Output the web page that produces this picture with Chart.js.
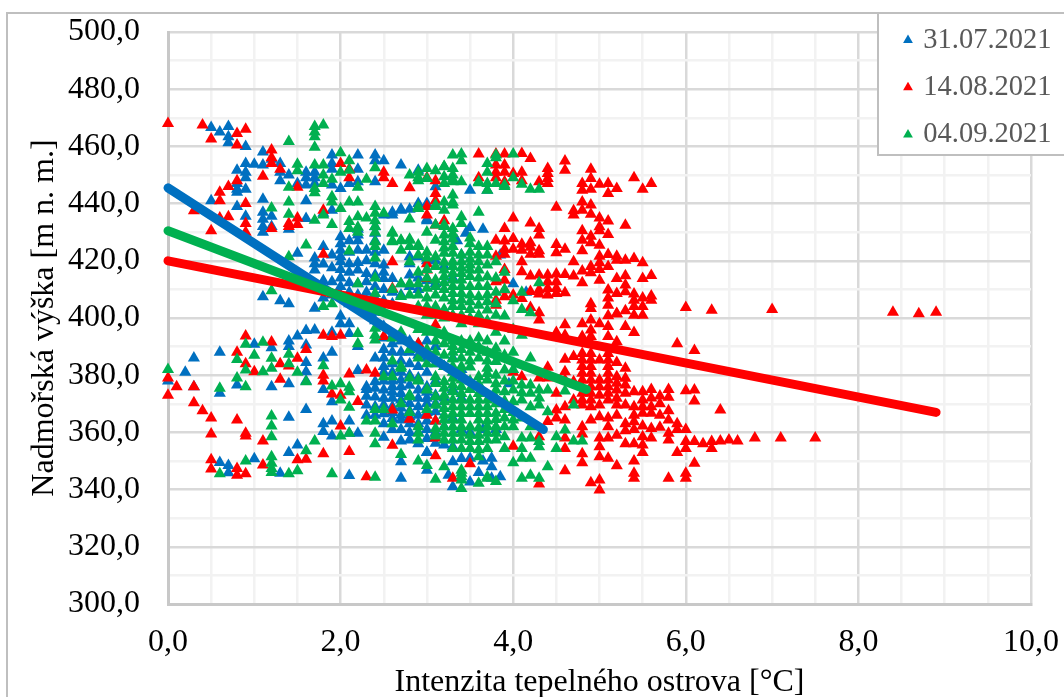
<!DOCTYPE html>
<html><head><meta charset="utf-8">
<script src="https://cdn.jsdelivr.net/npm/chart.js@4/dist/chart.umd.min.js"></script>
<style>html,body{margin:0;padding:0;background:#fff;overflow:hidden}#c{display:block}</style>
</head><body><div style="width:1064px;height:697px"><canvas id="c" width="1064" height="697"></canvas></div>
<script>
const seriesLabels = ['31.07.2021','14.08.2021','04.09.2021'];
const axisTitleX = 'Intenzita tepelného ostrova [°C]';
const axisTitleY = 'Nadmořská výška [m n. m.]';

const points0731 = [
[0,378],[.2,381],[.3,386],[.3,376],[.5,466.6],[.5,441],[.6,465],[.6,388],[.6,373.7],[.6,349.5],[.7,467],[.7,463.4],[.7,461.3],[.7,348.4],[.7,345.9],
[.8,451.7],[.8,447],[.8,445],[.8,444],[.8,439],[.8,376.6],[.9,460],[.9,454],[.9,451],[.9,449],[.9,445],[.9,435.6],[1,453.8],[1,390.8],[1,350.8],
[1.1,458],[1.1,453.5],[1.1,441.5],[1.1,437],[1.1,434.5],[1.1,432],[1.1,430],[1.1,407.4],[1.2,455.5],[1.2,435.6],[1.2,432],[1.2,389.6],[1.2,376],
[1.3,454],[1.3,451],[1.3,448],[1.3,406],[1.3,345.7],[1.4,450],[1.4,431],[1.4,405],[1.4,392],[1.4,390],[1.4,377],[1.4,365.3],[1.4,353],
[1.5,447],[1.5,422.6],[1.5,393.7],[1.5,355.6],[1.6,451],[1.6,449],[1.6,446.5],[1.6,441],[1.6,434.8],[1.6,412],[1.6,395.6],[1.6,390.6],[1.6,384.4],[1.6,381.2],[1.6,378],[1.6,368],
[1.7,451],[1.7,449],[1.7,447],[1.7,421],[1.7,419],[1.7,416.8],[1.7,411],[1.7,403.4],[1.7,395.8],[1.8,436.6],[1.8,425],[1.8,418.9],[1.8,413],[1.8,407],[1.8,386],[1.8,375],[1.8,363],[1.8,360.3],
[1.9,457],[1.9,454],[1.9,452],[1.9,446.5],[1.9,437.7],[1.9,422],[1.9,417.6],[1.9,412.7],[1.9,408],[1.9,395],[1.9,388],[1.9,370.7],[1.9,364],[1.9,358.7],
[2,445.3],[2,428.4],[2,426],[2,423.7],[2,421.4],[2,419.7],[2,417],[2,414],[2,411],[2,408],[2,400.7],[2,398],[2.1,447],[2.1,427],[2.1,423],[2.1,419],[2.1,416],[2.1,412.3],[2.1,409],[2.1,405],[2.1,398],[2.1,394.6],[2.1,364],[2.1,359.7],[2.1,344.9],
[2.2,457],[2.2,452],[2.2,447.6],[2.2,427],[2.2,423.7],[2.2,419.4],[2.2,416.8],[2.2,412],[2.2,408],[2.2,404],[2.2,390],[2.2,381.6],[2.2,359.7],[2.2,431],[2.2,429],
[2.3,423.7],[2.3,420],[2.3,415.6],[2.3,412.7],[2.3,409],[2.3,406],[2.3,403],[2.3,376],[2.3,375],[2.3,372.6],[2.3,369.6],[2.3,366],[2.4,457],[2.4,455],[2.4,447.6],[2.4,431.9],[2.4,429.6],[2.4,427],[2.4,423],[2.4,419],[2.4,415],[2.4,411],[2.4,407],[2.4,402],[2.4,399],[2.4,386],[2.4,377.7],[2.4,375.4],[2.4,372.4],[2.4,369],[2.4,366],
[2.5,455],[2.5,436],[2.5,423.7],[2.5,418.5],[2.5,416],[2.5,413.8],[2.5,410],[2.5,406],[2.5,402],[2.5,397],[2.5,393],[2.5,389],[2.5,386],[2.5,383],[2.5,381],[2.5,378],[2.5,374.8],[2.5,371.9],[2.5,369.6],[2.5,366.5],[2.5,363],[2.5,358.3],
[2.6,437],[2.6,436],[2.6,413.8],[2.6,409],[2.6,405],[2.6,394],[2.6,391],[2.6,388],[2.6,384],[2.6,381],[2.6,378],[2.6,376],[2.6,374],[2.6,371.9],[2.6,369],[2.6,367],[2.6,364.9],[2.6,361],
[2.7,453.5],[2.7,438],[2.7,437.7],[2.7,412],[2.7,408],[2.7,392],[2.7,388],[2.7,385],[2.7,381],[2.7,378.3],[2.7,376],[2.7,373.6],[2.7,371.3],[2.7,368.5],[2.7,366],[2.7,364.3],[2.7,361],[2.7,357],[2.7,349.7],[2.7,344],
[2.8,421.4],[2.8,419],[2.8,415],[2.8,411],[2.8,438],[2.8,392],[2.8,388],[2.8,384],[2.8,380],[2.8,376.5],[2.8,373],[2.8,370.1],[2.8,367.5],[2.8,365.5],[2.8,363],[2.8,360],[2.8,357.3],
[2.9,440],[2.9,421.4],[2.9,451.7],[2.9,414],[2.9,410],[2.9,391],[2.9,387],[2.9,383],[2.9,379],[2.9,374.8],[2.9,371.9],[2.9,369],[2.9,366],[2.9,363],[2.9,360],[2.9,356],
[3,440],[3,434.5],[3,434],[3,420],[3,413],[3,392],[3,386],[3,381],[3,376],[3,374],[3,371.9],[3,370.1],[3,367],[3,364],[3,361],[3,357.9],[3,353],[3,346.8],[3,353],
[3.1,445.9],[3.1,420],[3.1,412],[3.1,390],[3.1,384],[3.1,378],[3.1,373],[3.1,370],[3.1,367.2],[3.1,364],[3.1,360],[3.1,356.2],[3.2,355.6],[3.2,362],[3.2,372],[3.2,383],[3.2,418],[3.25,345],[3.3,349.7],[3.3,341],[3.3,375],[3.3,365],[3.3,355],[3.3,386],[3.3,414],
[3.4,350.9],[3.4,361],[3.4,372],[3.4,382],[3.4,422],[3.45,429.6],[3.5,444.7],[3.5,342.7],[3.5,431.6],[3.5,360],[3.5,351],[3.35,427],[3.65,431],[3.65,350],[3.65,361],[3.7,444.7],[3.75,351],[3.75,348],[3.75,344],[3.85,344.5],[3.85,422],[3.95,377],[3.6,346],[3.8,361],[4,412],[4.15,409]
];

const points1408 = [
[0,468],[0,379],[0,373],[.1,376],[.3,437.5],[.3,376],[.3,370.4],[.4,467.5],[.4,367.6],[.5,462.6],[.5,430.5],[.5,365],[.5,359.4],[.5,350.4],[.5,347.2],[.6,444],[.6,441],[.6,435],
[.7,446],[.7,435.4],[.8,464.5],[.8,460.5],[.8,448],[.8,388],[.8,364.3],[.8,347.4],[.8,345],[.9,466],[.9,440],[.9,433],[.9,430],[.9,393.7],[.9,384],[.9,359.7],[.9,358.7],[.9,345.5],
[1,381.2],[1.1,449.6],[1.1,357],[1.1,348.6],[1.2,458.7],[1.2,456],[1.2,454],[1.2,431.3],[1.2,391.6],[1.3,452],[1.3,384],[1.3,378.6],[1.4,433],[1.4,432],[1.4,383.2],
[1.5,445.7],[1.5,435],[1.5,432.7],[1.5,385.9],[1.5,350.4],[1.6,389],[1.6,350.6],[1.8,437.7],[1.8,422.3],[1.8,394],[1.8,380],[1.8,378],[1.8,352.5],[1.9,393.5],[1.9,373.4],
[2,454],[2,394],[2,373],[2,362.2],[2.1,452],[2.1,449],[2.1,380.4],[2.1,353.3],[2.2,370.8],[2.3,381.8],[2.3,344.5],[2.4,380.7],[2.5,451],[2.5,449],[2.5,393.5],
[2.6,447],[2.6,419.7],[2.6,410.3],[2.6,367.8],[2.6,355.5],[2.8,445.5],[2.8,364.6],[2.9,391],[3,449],[3,439],[3,436],[3,419],[3,416.8],[3,413.8],[3,366],
[3.1,448],[3.1,443.5],[3.1,441],[3.1,432.5],[3.1,397.6],[3.1,364],[3.1,358],[3.1,351.8],[3.2,434],[3.3,344],[3.5,349],
[3.6,457.3],[3.6,449],[3.8,457.3],[3.8,453.5],[3.8,451],[3.8,449],[3.8,427.2],[3.8,421.6],[3.8,412.7],[3.8,406.2],[3.8,404.5],
[3.9,457.3],[3.9,453.5],[3.9,451],[3.9,447.6],[3.9,431.3],[3.9,426.9],[3.9,424],[3.9,422.3],[3.9,417],[3.9,413.2],[3.9,409.8],[3.9,407.4],
[4,450.5],[4,435],[4,427.8],[4,424],[4,408],[4,381],[4,355.2],[4.1,457.5],[4.1,451],[4.1,448],[4.1,425.8],[4.1,423.7],[4.1,419.7],[4.1,416.2],[4.1,406.8],[4.1,379.5],
[4.2,455.8],[4.2,433.2],[4.2,426.3],[4.2,424.7],[4.2,422.3],[4.2,414.7],[4.2,409.3],[4.2,403.7],[4.3,447.6],[4.3,431.3],[4.3,429],[4.3,423.5],[4.3,422.3],[4.3,415],[4.3,409.8],[4.3,408.4],[4.3,401.8],[4.3,399.3],[4.3,379],[4.3,358.5],[4.3,342],
[4.4,452.3],[4.4,450.5],[4.4,448.8],[4.4,447],[4.4,415],[4.4,412.7],[4.4,410.3],[4.4,408],[4.4,382.8],[4.4,379],[4.4,363.8],
[4.5,438.7],[4.5,425.7],[4.5,422.8],[4.5,415.4],[4.5,412.7],[4.5,410.3],[4.5,408.6],[4.5,394.9],[4.5,373.7],[4.5,367.8],[4.5,365],
[4.6,454.9],[4.6,451.7],[4.6,424],[4.6,415.2],[4.6,408.8],[4.6,397.6],[4.6,394],[4.6,385.6],[4.6,381.2],[4.6,378.3],[4.6,369],[4.6,364.3],[4.6,358],[4.6,354.4],[4.6,346.6],
[4.7,437.5],[4.7,436],[4.7,419.7],[4.7,414.7],[4.7,386.5],[4.7,377.7],[4.7,371.3],
[4.8,447],[4.8,444.7],[4.8,440.6],[4.8,437.7],[4.8,430.5],[4.8,427.2],[4.8,423.5],[4.8,416.4],[4.8,412.3],[4.8,398],[4.8,393.5],[4.8,387.6],[4.8,385.3],[4.8,383],[4.8,380.7],[4.8,378.3],[4.8,376],[4.8,373.7],[4.8,371.3],[4.8,369.6],[4.8,362],[4.8,359.4],[4.8,352.5],[4.8,349.4],
[4.9,452],[4.9,448.8],[4.9,445],[4.9,439.5],[4.9,436.3],[4.9,428.6],[4.9,426.3],[4.9,418],[4.9,415.8],[4.9,405],[4.9,403.3],[4.9,399.3],[4.9,395.8],[4.9,393.5],[4.9,391.1],[4.9,387.6],[4.9,385.3],[4.9,383],[4.9,380.7],[4.9,378.3],[4.9,376],[4.9,373.7],[4.9,371.3],[4.9,369],[4.9,364.3],[4.9,342.4],
[5,446.8],[5,435],[5,431.9],[5,430.5],[5,425.4],[5,421.6],[5,419.3],[5,417],[5,413.2],[5,398],[5,385.3],[5,378.3],[5,376],[5,373],[5,369.6],[5,365.5],[5,358],[5,355],[5,351.5],[5,343.4],[5,339.9],
[5.1,447],[5.1,443.5],[5.1,433.9],[5.1,429.2],[5.1,422.2],[5.1,418],[5.1,409.8],[5.1,407],[5.1,404.5],[5.1,400.8],[5.1,397],[5.1,393.5],[5.1,387.6],[5.1,385.3],[5.1,383],[5.1,380.7],[5.1,378.3],[5.1,376],[5.1,373.7],[5.1,371.3],[5.1,365],[5.1,362],[5.1,358],[5.1,351],
[5.2,445.3],[5.2,421.6],[5.2,420.2],[5.2,413.8],[5.2,408.6],[5.2,401.6],[5.2,401.4],[5.2,391.7],[5.2,384.4],[5.2,379.5],[5.2,377.2],[5.2,374.8],[5.2,371.9],[5.2,369.6],[5.2,366],[5.2,359],[5.2,348.3],
[5.3,432.4],[5.3,420.2],[5.3,414.8],[5.3,411.5],[5.3,409.2],[5.3,402.5],[5.3,397],[5.3,382.4],[5.3,378.9],[5.3,376.6],[5.3,373.7],[5.3,369.6],[5.3,363],[5.3,360.6],[5.3,356],
[5.4,449],[5.4,420.8],[5.4,408.4],[5.4,406.2],[5.4,404],[5.4,401],[5.4,394.9],[5.4,374.2],[5.4,369],[5.4,366],[5.4,363.7],[5.4,361],[5.4,356],[5.4,350],[5.4,345.7],[5.4,344],
[5.5,445],[5.5,419.3],[5.5,413.8],[5.5,407],[5.5,404],[5.5,401],[5.5,374.2],[5.5,371.3],[5.5,369],[5.5,366.7],[5.5,362.2],[5.5,358.5],[5.5,355.6],[5.5,353],
[5.6,447],[5.6,414.9],[5.6,407.7],[5.6,406.2],[5.6,375],[5.6,372],[5.6,369],[5.6,366.7],[5.6,361.4],[5.6,358],[5.7,372.7],[5.7,370],[5.7,366],[5.7,361.8],
[5.8,375],[5.8,372.3],[5.8,367.6],[5.8,364.3],[5.8,359.7],[5.8,357.3],[5.8,344],[5.9,391],[5.9,363],[5.9,361],[5.9,353],[6,403.7],[6,374.6],[6,361],[6,356.8],[6,354.4],[6,345.7],[6,344],
[6.1,388.6],[6.1,374.8],[6.1,371],[6.1,356.8],[6.1,349.2],[6.2,356],[6.3,402.7],[6.3,356.8],[6.3,354.4],[6.4,367.8],[6.4,357],[6.5,357.3],[6.6,357],[6.8,358],[7,403],[7.1,358],[7.5,358],[8.4,402],[8.7,401.5],[8.9,402]
];

const points0409 = [
[0,382],[.6,375.4],[.6,345.5],[.8,385.5],[.8,379],[.9,390.8],[.9,381.8],[.9,376],[.9,350],[1,387],[1.1,391.5],[1.1,381.2],[1.2,438.5],[1.2,409.5],[1.2,385.9],[1.2,382.4],[1.2,365.7],[1.2,362.2],[1.2,358.5],[1.2,351.5],[1.2,349.2],[1.2,347.4],[1.2,346],
[1.4,461.7],[1.4,445.7],[1.4,440.6],[1.4,436.3],[1.4,421.4],[1.4,387.3],[1.4,384],[1.4,345.5],[1.5,453.8],[1.5,451.5],[1.5,381],[1.5,346.6],[1.6,425.5],[1.6,377.7],[1.6,353.6],
[1.7,467],[1.7,465],[1.7,463.4],[1.7,459.7],[1.7,453.5],[1.7,445.3],[1.7,443.8],[1.7,434.2],[1.7,357],[1.8,467.5],[1.8,453.5],[1.8,450],[1.8,447],[1.8,436],[1.8,404],[1.8,383.3],
[1.9,448.5],[1.9,442.4],[1.9,440.6],[1.9,432.7],[1.9,405],[1.9,376.2],[1.9,345.5],[2,457.8],[2,451],[2,438.3],[2,377],[2,371.3],[2,358.7],
[2.1,455],[2.1,451.7],[2.1,440.6],[2.1,433.7],[2.1,431.3],[2.1,423.4],[2.1,375.8],[2.1,374.2],[2.1,368.8],[2.1,359.7],[2.2,445.7],[2.2,440.6],[2.2,435.4],[2.2,431.7],[2.2,430],[2.2,412],[2.2,394.6],[2.2,391],
[2.3,448.5],[2.3,435],[2.3,364],[2.4,452.5],[2.4,439],[2.4,436.6],[2.4,434],[2.4,432],[2.4,430],[2.4,426.7],[2.4,425],[2.4,421],[2.4,414],[2.4,408.6],[2.4,396.4],[2.4,394],[2.4,392.3],[2.4,368],[2.4,364],[2.4,359.7],[2.4,356],[2.4,344.3],
[2.5,436.6],[2.5,379.5],[2.5,368],[2.6,430],[2.6,429.6],[2.6,427],[2.6,426.7],[2.6,410],[2.6,393],[2.6,385],[2.6,379.5],[2.6,363],[2.7,427.2],[2.7,427],[2.7,423.7],[2.7,412],[2.7,407.5],[2.7,395],[2.7,383],[2.7,382.4],[2.7,370],[2.7,352.3],
[2.8,450],[2.8,434.6],[2.8,427.5],[2.8,427.2],[2.8,425],[2.8,419.7],[2.8,412],[2.8,408],[2.8,389],[2.8,379],[2.8,372.5],[2.8,367],[2.8,373],[2.9,451],[2.9,449],[2.9,448],[2.9,438.9],[2.9,438.3],[2.9,425.5],[2.9,425],[2.9,422],[2.9,416],[2.9,412],[2.9,408],[2.9,404],[2.9,396],[2.9,386],[2.9,378],[2.9,378.3],[2.9,362],[2.9,359.7],[2.9,357.3],[2.9,350],
[3,452.3],[3,448.8],[3,430],[3,423],[3,421],[3,417],[3,414],[3,410.4],[3,407],[3,404],[3,401],[3,395],[3,389],[3,384],[3,375],[3,374.8],[3,368],[3,348.4],
[3.1,451.5],[3.1,439.5],[3.1,439],[3.1,432.5],[3.1,427.2],[3.1,421.4],[3.1,418],[3.1,413.3],[3.1,411],[3.1,408],[3.1,404],[3.1,401],[3.1,392],[3.1,388],[3.1,384],[3.1,379.5],[3.1,377.1],[3.1,372.5],[3.1,369.5],[3.1,361.3],[3.1,359.4],[3.1,358.7],[3.1,343.6],
[3.2,453],[3.2,452.9],[3.2,449.4],[3.2,447],[3.2,440.6],[3.2,437.7],[3.2,432.5],[3.2,432],[3.2,429],[3.2,426.7],[3.2,424.5],[3.2,422.6],[3.2,419.5],[3.2,416.8],[3.2,414.5],[3.2,412.3],[3.2,410],[3.2,407],[3.2,403],[3.2,400],[3.2,395],[3.2,391],[3.2,387],[3.2,383],[3.2,377.7],[3.2,375.4],[3.2,373],[3.2,370.7],[3.2,368.4],[3.2,366],[3.2,364.3],[3.2,362],[3.2,359.7],[3.2,357.3],[3.2,348],
[3.3,457],[3.3,452.3],[3.3,450],[3.3,448.5],[3.3,447.6],[3.3,443],[3.3,440.5],[3.3,439.5],[3.3,431.3],[3.3,429.5],[3.3,427.6],[3.3,425],[3.3,422.6],[3.3,419.7],[3.3,418],[3.3,415.6],[3.3,413.3],[3.3,411],[3.3,408.6],[3.3,406],[3.3,404],[3.3,401],[3.3,392],[3.3,390],[3.3,388],[3.3,385.7],[3.3,383],[3.3,381],[3.3,378.9],[3.3,376.6],[3.3,374.2],[3.3,371.3],[3.3,369],[3.3,366.6],[3.3,364.3],[3.3,362],[3.3,359.7],[3.3,357.3],[3.3,354.4],
[3.4,457.3],[3.4,455],[3.4,447.6],[3.4,435.4],[3.4,433],[3.4,422],[3.4,419.7],[3.4,417.5],[3.4,415.6],[3.4,413.3],[3.4,411],[3.4,408.6],[3.4,406.3],[3.4,404],[3.4,401],[3.4,398],[3.4,392],[3.4,389],[3.4,386],[3.4,383],[3.4,380.6],[3.4,378.3],[3.4,376],[3.4,373.6],[3.4,371.3],[3.4,369],[3.4,366.6],[3.4,364.3],[3.4,362],[3.4,359.7],[3.4,357.3],[3.4,354.4],[3.4,346.8],[3.4,345.7],[3.4,344.5],[3.4,343.4],[3.4,340.4],
[3.5,428],[3.5,426],[3.5,423],[3.5,420.5],[3.5,418.5],[3.5,416.8],[3.5,414.5],[3.5,411],[3.5,408],[3.5,405.7],[3.5,403],[3.5,400],[3.5,392],[3.5,388],[3.5,385],[3.5,382.9],[3.5,378],[3.5,375],[3.5,371.3],[3.5,369],[3.5,366.6],[3.5,362],[3.5,359],[3.5,356.8],[3.5,354.4],
[3.6,447.3],[3.6,447.6],[3.6,437],[3.6,425],[3.6,422],[3.6,419.7],[3.6,416.8],[3.6,414],[3.6,411],[3.6,407.4],[3.6,404.5],[3.6,401],[3.6,398],[3.6,393],[3.6,390],[3.6,386],[3.6,379.5],[3.6,377],[3.6,373.6],[3.6,371.3],[3.6,369],[3.6,366.6],[3.6,364.3],[3.6,361.5],[3.6,359],[3.6,356.8],[3.6,353.9],[3.6,351.5],[3.6,342.2],
[3.7,454],[3.7,451],[3.7,447],[3.7,444.7],[3.7,425],[3.7,422],[3.7,418.5],[3.7,414.4],[3.7,411],[3.7,408],[3.7,405.7],[3.7,402.8],[3.7,399],[3.7,392],[3.7,388],[3.7,385],[3.7,382.4],[3.7,380.6],[3.7,378.3],[3.7,371.3],[3.7,369],[3.7,366.6],[3.7,364],[3.7,362],[3.7,359.7],[3.7,357.3],[3.7,354.4],[3.7,344.5],[3.7,344],
[3.8,456],[3.8,457],[3.8,447],[3.8,419.7],[3.8,414],[3.8,409],[3.8,405],[3.8,401],[3.8,395],[3.8,389.4],[3.8,384.8],[3.8,380],[3.8,377],[3.8,374.8],[3.8,372],[3.8,370],[3.8,366.7],[3.8,364.5],[3.8,362],[3.8,359.7],[3.8,357.3],[3.8,342.8],[3.9,446],[3.9,446.5],[3.9,416],[3.9,410],[3.9,400.7],[3.9,392],[3.9,387],[3.9,381.8],[3.9,378],[3.9,374.2],[3.9,371],[3.9,368],[3.9,365],[3.9,362],[3.9,358.5],[3.9,354.4],
[4,457.3],[4,449],[4,406],[4,396],[4,388],[4,382],[4,378],[4,374.8],[4,370.7],[4,367],[4,364.3],[4,362],[4,349.4],[4.1,446.8],[4.1,409],[4.1,403],[4.1,394],[4.1,376.6],[4.1,373.9],[4.1,371.3],[4.1,365],[4.1,358],[4.1,354.4],[4.1,351],[4.1,344],
[4.2,445],[4.2,401.8],[4.2,386],[4.2,376.6],[4.2,373.7],[4.2,369],[4.2,362],[4.2,358],[4.2,351],[4.2,345],[4.3,445],[4.3,412.3],[4.3,374.8],[4.3,372],[4.3,369.6],[4.3,356.8],[4.3,355],[4.3,344],[4.4,374.8],[4.4,367.2],[4.4,348],
[4.5,358.5],[4.5,354.4],[4.6,374.5],[4.6,360.8],[4.7,369.6],[4.7,357],[4.8,357]
];

const trend0731X = [0, 4.35], trend0731Y = [445.5, 361];
const trend1408X = [0, 8.9],  trend1408Y = [420, 367];
const trend0409X = [0, 4.85], trend0409Y = [430.5, 375];

const colours = ['#0070C0','#FF0000','#00B050'];
const toXY = a => a.map(p => ({x:p[0], y:p[1]}));
const zip = (xs,ys) => xs.map((x,i) => ({x, y:ys[i]}));
const fmt = v => v.toFixed(1).replace('.',',');
const serif = '"Liberation Serif", serif';

const scatter = (label,data,col,order) => ({label,data:toXY(data),order,pointStyle:'triangle',pointRadius:7,pointHoverRadius:7,
  pointBorderWidth:0,pointBackgroundColor:col,backgroundColor:col,borderColor:col,borderWidth:0,showLine:false,clip:false});
const trend = (label,data,col,order) => ({label,data,order,showLine:true,pointRadius:0,borderColor:col,backgroundColor:col,borderWidth:9,borderCapStyle:'round',fill:false,clip:false});

const framePlugin = {
  id:'frame',
  beforeLayout(chart){
    const lg = chart.legend;
    lg._layers = () => [{z:1, draw:(a)=>lg.draw(a)}];
  },
  afterLayout(chart){
    const lg = chart.legend;
    lg.left = 888.2; lg.right = 1064; lg.top = 7; lg.bottom = 600;
  },
  beforeDraw(chart){
    const c = chart.ctx; c.save();
    c.fillStyle='#fff'; c.fillRect(0,0,1064,697);
    c.strokeStyle='#BFBFBF'; c.lineWidth=2;
    c.beginPath(); c.moveTo(7,697); c.lineTo(7,13); c.lineTo(1064,13); c.stroke();
    c.restore();
  },
  afterDatasetsDraw(chart){
    const c = chart.ctx; c.save();
    c.fillStyle='#fff'; c.strokeStyle='#BFBFBF'; c.lineWidth=2;
    c.beginPath(); c.rect(878,13,200,142); c.fill(); c.stroke();
    c.restore();
  }
};

new Chart(document.getElementById('c'),{
  type:'scatter',
  data:{datasets:[
    scatter(seriesLabels[0],points0731,colours[0],5),
    scatter(seriesLabels[1],points1408,colours[1],4),
    scatter(seriesLabels[2],points0409,colours[2],3),
    trend('Trend '+seriesLabels[0],zip(trend0731X,trend0731Y),colours[0],2),
    trend('Trend '+seriesLabels[1],zip(trend1408X,trend1408Y),colours[1],1),
    trend('Trend '+seriesLabels[2],zip(trend0409X,trend0409Y),colours[2],0)
  ]},
  plugins:[framePlugin],
  options:{
    responsive:false,animation:false,
    layout:{padding:{left:0,top:32,right:33,bottom:0}},
    plugins:{
      tooltip:{enabled:false},
      legend:{display:true,position:'chartArea',align:'start',
        labels:{filter:i=>i.datasetIndex<3,sort:(a,b)=>a.datasetIndex-b.datasetIndex,usePointStyle:true,boxWidth:2,boxHeight:8,padding:18.8,color:'#595959',font:{family:serif,size:28.5}}}
    },
    scales:{
      x:{type:'linear',min:0,max:10,
        afterFit:s=>{s.height=93;s.paddingRight=0;s.paddingLeft=0;},
        ticks:{stepSize:.5,autoSkip:false,maxRotation:0,padding:19,color:'#000',font:{family:serif,size:32},
          callback:v=>Math.abs(v%2)<1e-9?fmt(v):''},
        grid:{drawTicks:false,color:c=>Math.abs(c.tick.value%2)<1e-9?'#D9D9D9':'#F2F2F2',lineWidth:2.5},
        border:{color:'#C8C8C8',width:3},
        title:{display:true,text:axisTitleX,color:'#000',padding:{top:0,bottom:-2},font:{family:serif,size:32,lineHeight:1}}
      },
      y:{type:'linear',min:300,max:500,
        afterFit:s=>{s.width=168;s.paddingTop=0;s.paddingBottom=0;},
        ticks:{stepSize:10,autoSkip:false,padding:28,color:'#000',font:{family:serif,size:32},
          callback:v=>Math.abs(v%20)<1e-9?fmt(v):''},
        grid:{drawTicks:false,color:c=>Math.abs(c.tick.value%20)<1e-9?'#D9D9D9':'#F2F2F2',lineWidth:2.5},
        border:{color:'#C8C8C8',width:3},
        title:{display:true,text:axisTitleY,color:'#000',padding:{top:25,bottom:0},font:{family:serif,size:32}}
      }
    }
  }
});
</script></body></html>
